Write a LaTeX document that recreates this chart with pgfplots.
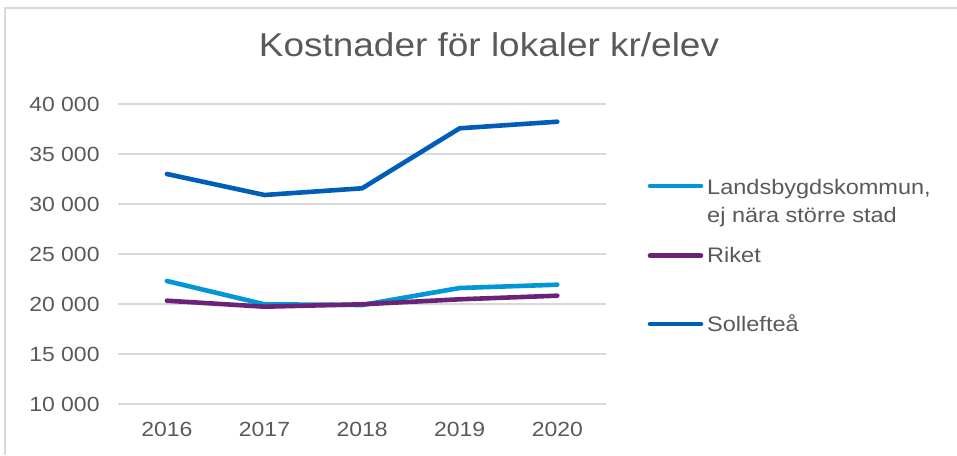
\documentclass[border=0pt]{standalone}
\usepackage{fontspec}
\setmainfont{Liberation Sans}[FakeStretch=1.12]
\usepackage{pgfplots}
\pgfplotsset{compat=1.18}
\definecolor{txt}{HTML}{595959}
\definecolor{gridc}{HTML}{D9D9D9}
\definecolor{cland}{HTML}{0096D8}
\definecolor{crike}{HTML}{6B2378}
\definecolor{csoll}{HTML}{005EB8}
\begin{document}
\begin{tikzpicture}[x=1pt,y=1pt]
\path[use as bounding box] (0,0) rectangle (957,455);
\draw[gridc, line width=1.2pt] (5,0) -- (5,447) -- (957,447);
\node[anchor=base, text=txt, font=\fontsize{33}{38}\selectfont] at (489,398) {Kostnader för lokaler kr/elev};
\begin{axis}[
  at={(121,51)}, anchor=south west,
  scale only axis, width=488pt, height=300pt,
  xmin=-0.5, xmax=4.5, ymin=10000, ymax=40000,
  scaled ticks=false,
  axis line style={draw=none},
  major tick length=0pt,
  xtick={0,1,2,3,4}, xticklabels={2016,2017,2018,2019,2020},
  ytick={10000,15000,20000,25000,30000,35000,40000},
  yticklabels={10 000,15 000,20 000,25 000,30 000,35 000,40 000},
  ymajorgrids, grid style={gridc, line width=1.3pt},
  tick label style={text=txt, font=\fontsize{20.5}{24}\selectfont},
  yticklabel style={xshift=-15pt},
  xticklabel style={yshift=-15pt},
  every axis plot/.append style={line width=4.6pt, line cap=round, line join=round, mark=none},
]
\addplot[cland] coordinates {(0,22300) (1,19970) (2,19900) (3,21600) (4,21930)};
\addplot[crike] coordinates {(0,20330) (1,19730) (2,19970) (3,20470) (4,20830)};
\addplot[csoll] coordinates {(0,33000) (1,30900) (2,31570) (3,37570) (4,38230)};
\end{axis}
\begin{scope}[line width=4.6pt, line cap=round]
\draw[cland] (650,269) -- (701,269);
\draw[crike] (650,199.3) -- (701,199.3);
\draw[csoll] (650,131) -- (701,131);
\end{scope}
\begin{scope}[every node/.style={anchor=base west, inner sep=0pt, text=txt, font=\fontsize{21}{28}\selectfont}]
\node at (707,260.7) {Landsbygdskommun,};
\node at (707,232.7) {ej nära större stad};
\node at (707,192.3) {Riket};
\node at (707,123.7) {Sollefteå};
\end{scope}
\end{tikzpicture}
\end{document}
